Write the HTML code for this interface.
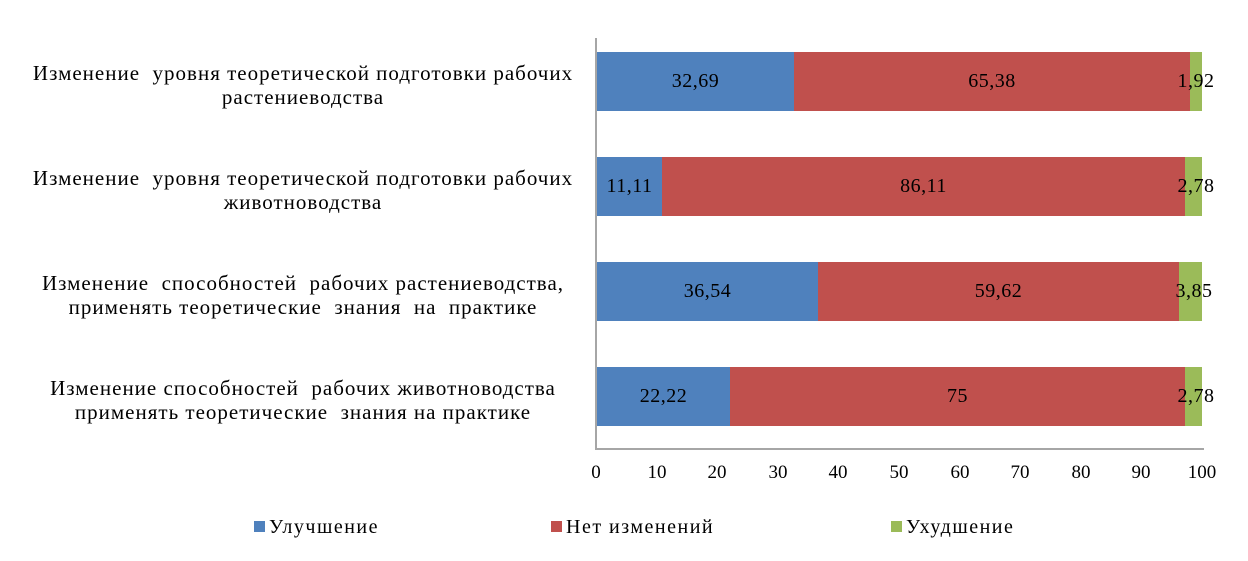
<!DOCTYPE html>
<html><head><meta charset="utf-8"><style>
body{margin:0;width:1248px;height:561px;background:#fff;position:relative;overflow:hidden;font-family:"Liberation Serif",serif;color:#000}
.lab{position:absolute;left:3px;width:600px;text-align:center;font-size:21px;line-height:24px;letter-spacing:1px;white-space:nowrap}
.bar{position:absolute;height:59px}
.v{position:absolute;font-size:20px;line-height:59px;text-align:center;height:59px;letter-spacing:0.5px}
.t{position:absolute;top:462px;font-size:19px;width:40px;text-align:center}
.lg{position:absolute;top:516px;font-size:20px;letter-spacing:1.5px}
.sq{position:absolute;top:521px;width:11px;height:11px}
</style></head><body>
<div style="position:absolute;left:595px;top:38px;width:2px;height:412px;background:#a6a6a6"></div>
<div style="position:absolute;left:595px;top:448px;width:609px;height:2px;background:#a6a6a6"></div>

<div class="lab" style="top:61px">Изменение&nbsp; уровня теоретической подготовки рабочих<br>растениеводства</div>
<div class="lab" style="top:166px">Изменение&nbsp; уровня теоретической подготовки рабочих<br>животноводства</div>
<div class="lab" style="top:271px">Изменение&nbsp; способностей&nbsp; рабочих растениеводства,<br>применять теоретические&nbsp; знания&nbsp; на&nbsp; практике</div>
<div class="lab" style="top:376px">Изменение способностей&nbsp; рабочих животноводства<br>применять теоретические&nbsp; знания на практике</div>

<div class="bar" style="top:52px;left:597px;width:197px;background:#4f81bd"></div>
<div class="bar" style="top:52px;left:794px;width:396px;background:#c0504d"></div>
<div class="bar" style="top:52px;left:1190px;width:12px;background:#9bbb59"></div>
<div class="v" style="top:52px;left:597px;width:197px">32,69</div>
<div class="v" style="top:52px;left:794px;width:396px">65,38</div>
<div class="v" style="top:52px;left:1166px;width:60px">1,92</div>

<div class="bar" style="top:157px;left:597px;width:65px;background:#4f81bd"></div>
<div class="bar" style="top:157px;left:662px;width:523px;background:#c0504d"></div>
<div class="bar" style="top:157px;left:1185px;width:17px;background:#9bbb59"></div>
<div class="v" style="top:157px;left:597px;width:65px">11,11</div>
<div class="v" style="top:157px;left:662px;width:523px">86,11</div>
<div class="v" style="top:157px;left:1166px;width:60px">2,78</div>

<div class="bar" style="top:262px;left:597px;width:221px;background:#4f81bd"></div>
<div class="bar" style="top:262px;left:818px;width:361px;background:#c0504d"></div>
<div class="bar" style="top:262px;left:1179px;width:23px;background:#9bbb59"></div>
<div class="v" style="top:262px;left:597px;width:221px">36,54</div>
<div class="v" style="top:262px;left:818px;width:361px">59,62</div>
<div class="v" style="top:262px;left:1164px;width:60px">3,85</div>

<div class="bar" style="top:367px;left:597px;width:133px;background:#4f81bd"></div>
<div class="bar" style="top:367px;left:730px;width:455px;background:#c0504d"></div>
<div class="bar" style="top:367px;left:1185px;width:17px;background:#9bbb59"></div>
<div class="v" style="top:367px;left:597px;width:133px">22,22</div>
<div class="v" style="top:367px;left:730px;width:455px">75</div>
<div class="v" style="top:367px;left:1166px;width:60px">2,78</div>

<div class="t" style="left:576px">0</div>
<div class="t" style="left:637px">10</div>
<div class="t" style="left:697px">20</div>
<div class="t" style="left:758px">30</div>
<div class="t" style="left:818px">40</div>
<div class="t" style="left:879px">50</div>
<div class="t" style="left:940px">60</div>
<div class="t" style="left:1000px">70</div>
<div class="t" style="left:1061px">80</div>
<div class="t" style="left:1121px">90</div>
<div class="t" style="left:1182px">100</div>

<div class="sq" style="left:254px;background:#4f81bd"></div><div class="lg" style="left:269px">Улучшение</div>
<div class="sq" style="left:551px;background:#c0504d"></div><div class="lg" style="left:566px">Нет изменений</div>
<div class="sq" style="left:891px;background:#9bbb59"></div><div class="lg" style="left:906px">Ухудшение</div>
</body></html>
